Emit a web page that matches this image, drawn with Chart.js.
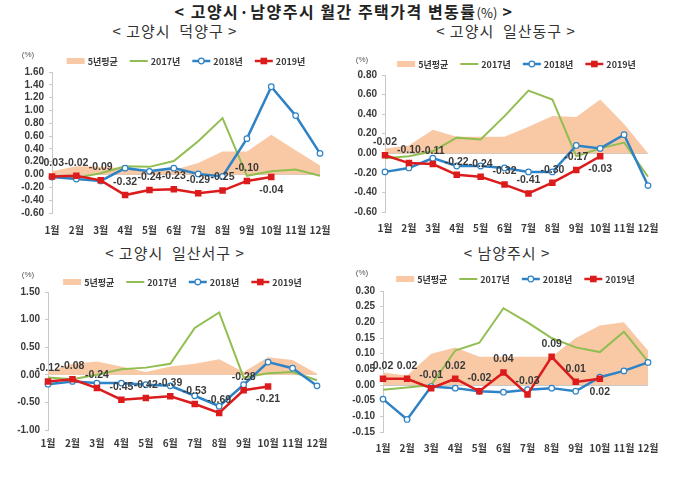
<!DOCTYPE html>
<html>
<head>
<meta charset="utf-8">
<script src="https://cdn.jsdelivr.net/npm/chart.js@4.4.0/dist/chart.umd.min.js"></script>
<style>
  html, body { margin:0; padding:0; background:#fff; }
  body { width:700px; height:485px; position:relative; overflow:hidden; font-family:"Noto Sans CJK KR", sans-serif; }
  .t { position:absolute; white-space:nowrap; color:#222; transform:translate(-50%,-50%); }
  .main { font-size:16px; font-weight:bold; letter-spacing:1.5px; }
  .main span { font-weight:normal; font-size:13px; letter-spacing:0; }
  .sub { font-size:15px; letter-spacing:1px; color:#333; }
  canvas { position:absolute; }
</style>
</head>
<body>
<div class="t main" style="left:344px; top:11px;">&lt; 고양시·남양주시 월간 주택가격 변동률<span>(%)</span> &gt;</div>
<div class="t sub" style="left:175px; top:30px;">&lt; 고양시&nbsp; 덕양구 &gt;</div>
<div class="t sub" style="left:506px; top:30px;">&lt; 고양시&nbsp; 일산동구 &gt;</div>
<div class="t sub" style="left:175px; top:252px;">&lt; 고양시&nbsp; 일산서구 &gt;</div>
<div class="t sub" style="left:507px; top:252px;">&lt; 남양주시 &gt;</div>

<canvas id="c1" width="345" height="205" style="left:0px; top:40px;"></canvas>
<canvas id="c2" width="355" height="205" style="left:345px; top:40px;"></canvas>
<canvas id="c3" width="345" height="205" style="left:0px; top:260px;"></canvas>
<canvas id="c4" width="355" height="205" style="left:345px; top:260px;"></canvas>

<script>
// ---------- DATA ----------
const months = ['1월','2월','3월','4월','5월','6월','7월','8월','9월','10월','11월','12월'];
const seriesNames = ['5년평균','2017년','2018년','2019년'];

// 고양시 덕양구
const dy_avg  = [0.05, 0.13, 0.12, 0.10, 0.05, 0.07, 0.18, 0.36, 0.36, 0.62, 0.38, 0.14];
const dy_2017 = [-0.03, -0.05, 0.02, 0.13, 0.12, 0.21, 0.52, 0.88, -0.02, 0.05, 0.08, -0.02];
const dy_2018 = [-0.04, -0.07, -0.10, 0.10, 0.05, 0.10, 0.01, -0.03, 0.56, 1.37, 0.92, 0.33];
const dy_2019 = [-0.03, -0.02, -0.09, -0.32, -0.24, -0.23, -0.29, -0.25, -0.10, -0.04];
const dy_ticks = [-0.6, 1.6, 0.2];

// 고양시 일산동구
const ed_avg  = [0.05, 0.08, 0.24, 0.17, 0.17, 0.17, 0.27, 0.38, 0.37, 0.55, 0.30, 0.00];
const ed_2017 = [-0.05, -0.03, 0.02, 0.16, 0.14, 0.38, 0.64, 0.55, -0.03, 0.05, 0.11, -0.24];
const ed_2018 = [-0.19, -0.15, -0.05, -0.13, -0.13, -0.15, -0.19, -0.19, 0.08, 0.05, 0.19, -0.33];
const ed_2019 = [-0.02, -0.10, -0.11, -0.22, -0.24, -0.32, -0.41, -0.30, -0.17, -0.03];
const ed_ticks = [-0.6, 0.8, 0.2];

// 고양시 일산서구
const es_avg  = [0.05, 0.20, 0.24, 0.15, 0.05, 0.15, 0.20, 0.28, 0.05, 0.32, 0.27, 0.02];
const es_2017 = [-0.05, -0.08, 0.00, 0.10, 0.13, 0.20, 0.85, 1.13, -0.05, 0.03, 0.05, -0.10];
const es_2018 = [-0.17, -0.12, -0.15, -0.15, -0.18, -0.20, -0.38, -0.57, -0.18, 0.23, 0.12, -0.20];
const es_2019 = [-0.12, -0.08, -0.24, -0.45, -0.42, -0.39, -0.53, -0.69, -0.28, -0.21];
const es_ticks = [-1.0, 1.5, 0.5];

// 남양주시
const nyj_avg  = [0.04, 0.03, 0.10, 0.12, 0.09, 0.09, 0.09, 0.09, 0.15, 0.19, 0.20, 0.11];
const nyj_2017 = [-0.015, -0.008, 0.00, 0.11, 0.135, 0.245, 0.20, 0.15, 0.12, 0.105, 0.17, 0.075];
const nyj_2018 = [-0.045, -0.11, -0.005, -0.01, -0.02, -0.023, -0.015, -0.01, -0.02, 0.025, 0.045, 0.072];
const nyj_2019 = [0.02, 0.02, -0.01, 0.02, -0.02, 0.04, -0.03, 0.09, 0.01, 0.02];
const nyj_ticks = [-0.15, 0.30, 0.05];

// ---------- STYLE ----------
const C_AREA = '#F9C9A6', C_GREEN = '#92BD50', C_BLUE = '#2E82C6', C_RED = '#DC1C1C';
const NUMFONT = '"Liberation Sans", Arial, sans-serif';
const KRFONT = '"Noto Sans CJK KR", sans-serif';
const TXT = '#3a3a3a';

const customPlugin = {
  id: 'custom',
  afterDatasetsDraw(chart, args, o) {
    const ctx = chart.ctx;
    const meta = chart.getDatasetMeta(3);
    const ds = chart.data.datasets[3];
    ctx.save();
    ctx.font = 'bold 10.5px ' + NUMFONT;
    ctx.fillStyle = TXT;
    ctx.textAlign = 'center';
    ctx.textBaseline = 'middle';
    meta.data.forEach((pt, i) => {
      const v = ds.data[i];
      if (v == null) return;
      const below = i === ds.data.length - 1;
      ctx.fillText(v.toFixed(2), pt.x, pt.y + (below ? 13 : -13));
    });
    ctx.restore();
  },
  afterDraw(chart, args, o) {
    const ctx = chart.ctx;
    const ca = chart.chartArea;
    ctx.save();
    ctx.font = '8px ' + NUMFONT;
    ctx.fillStyle = '#555';
    ctx.textAlign = 'center';
    ctx.textBaseline = 'middle';
    ctx.fillText('(%)', o.pctX, o.pctY);
    ctx.font = 'bold 9px ' + KRFONT;
    const sw = 18, gap = 3, itemGap = 12;
    const ds = chart.data.datasets;
    const widths = ds.map(d => sw + gap + ctx.measureText(d.label).width);
    const total = widths.reduce((a, b) => a + b, 0) + itemGap * (ds.length - 1);
    let x = (ca.left + ca.right) / 2 - total / 2;
    const y = o.legendY;
    ds.forEach((d, i) => {
      if (i === 0) {
        ctx.fillStyle = C_AREA;
        ctx.fillRect(x, y - 3, sw, 6);
      } else {
        ctx.strokeStyle = d.borderColor;
        ctx.lineWidth = d.borderWidth;
        ctx.beginPath(); ctx.moveTo(x, y); ctx.lineTo(x + sw, y); ctx.stroke();
        if (i === 2) {
          ctx.fillStyle = '#fff'; ctx.lineWidth = 1.2;
          ctx.beginPath(); ctx.arc(x + sw / 2, y, 2.8, 0, Math.PI * 2); ctx.fill(); ctx.stroke();
        } else if (i === 3) {
          ctx.fillStyle = C_RED;
          ctx.fillRect(x + sw / 2 - 3.3, y - 3.3, 6.6, 6.6);
        }
      }
      ctx.fillStyle = TXT;
      ctx.textAlign = 'left';
      ctx.fillText(d.label, x + sw + gap, y + 0.5);
      x += widths[i] + itemGap;
    });
    ctx.restore();
  }
};

function makeChart(id, avg, s17, s18, s19, ticks, lay) {
  const [mn, mx, step] = ticks;
  return new Chart(document.getElementById(id), {
    type: 'line',
    data: {
      labels: months,
      datasets: [
        { label: seriesNames[0], data: avg, fill: 'origin', backgroundColor: C_AREA, borderColor: C_AREA,
          borderWidth: 0, pointRadius: 0, tension: 0, order: 4 },
        { label: seriesNames[1], data: s17, borderColor: C_GREEN, borderWidth: 2, pointRadius: 0,
          fill: false, tension: 0, order: 3 },
        { label: seriesNames[2], data: s18, borderColor: C_BLUE, borderWidth: 2.5, pointRadius: 2.8,
          pointStyle: 'circle', pointBackgroundColor: '#fff', pointBorderColor: C_BLUE, pointBorderWidth: 1.2,
          fill: false, tension: 0, order: 2 },
        { label: seriesNames[3], data: s19, borderColor: C_RED, borderWidth: 2.5, pointRadius: 4.6,
          pointStyle: 'rect', pointBackgroundColor: C_RED, pointBorderColor: C_RED, pointBorderWidth: 0,
          fill: false, tension: 0, order: 1 }
      ]
    },
    options: {
      responsive: false,
      animation: false,
      events: [],
      layout: { padding: { top: lay.top, right: lay.right, left: 0, bottom: 0 } },
      plugins: {
        legend: { display: false },
        tooltip: { enabled: false },
        custom: { legendY: lay.legendY, pctX: lay.pctX, pctY: lay.pctY }
      },
      scales: {
        x: {
          offset: false,
          grid: { display: false, drawTicks: false },
          border: { display: false },
          ticks: { color: TXT, font: { family: KRFONT, size: 10, weight: 'bold' }, padding: lay.xpad,
                   maxRotation: 0, autoSkip: false },
          afterFit: s => { s.height = lay.xh; }
        },
        y: {
          min: mn, max: mx,
          grid: {
            drawOnChartArea: true,
            color: c => (Math.abs(c.tick.value) < 1e-9 ? '#c8c8c8' : 'rgba(0,0,0,0)'),
            tickColor: '#c8c8c8', tickLength: 3, lineWidth: 1
          },
          border: { display: true, color: '#c8c8c8' },
          ticks: {
            stepSize: step, color: TXT, padding: 5, autoSkip: false,
            font: { family: NUMFONT, size: 10, weight: 'bold' },
            callback: v => Number(v).toFixed(2)
          },
          afterFit: s => { s.width = lay.yw; }
        }
      }
    },
    plugins: [customPlugin]
  });
}

makeChart('c1', dy_avg, dy_2017, dy_2018, dy_2019, dy_ticks,
  { top: 32, right: 25, yw: 52, xh: 32, xpad: 11, legendY: 21, pctX: 28, pctY: 15 });
makeChart('c2', ed_avg, ed_2017, ed_2018, ed_2019, ed_ticks,
  { top: 35, right: 52, yw: 40, xh: 33, xpad: 10, legendY: 24, pctX: 17, pctY: 20 });
makeChart('c3', es_avg, es_2017, es_2018, es_2019, es_ticks,
  { top: 32, right: 28, yw: 48, xh: 35, xpad: 7, legendY: 22, pctX: 28, pctY: 15 });
makeChart('c4', nyj_avg, nyj_2017, nyj_2018, nyj_2019, nyj_ticks,
  { top: 31, right: 52, yw: 38, xh: 33, xpad: 10, legendY: 19, pctX: 17, pctY: 13 });
</script>
</body>
</html>
